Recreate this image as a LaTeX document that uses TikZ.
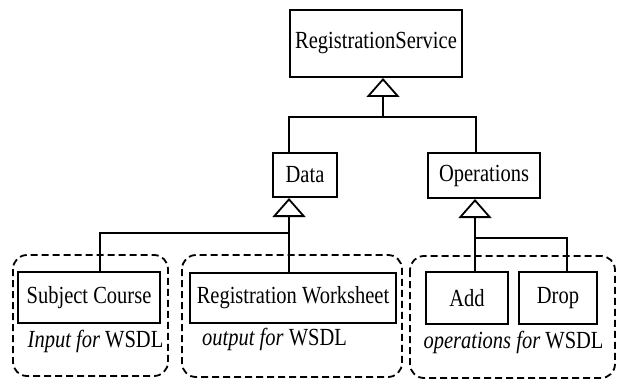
\documentclass[tikz,border=0pt]{standalone}
\usepackage{fontspec}
\usepackage{graphicx}
\setmainfont{Liberation Serif}
\usetikzlibrary{arrows.meta}
\newcommand{\tallt}[1]{\scalebox{1}[1.2]{#1}}
\begin{document}
\begin{tikzpicture}[x=1pt,y=-1pt,
  cls/.style={draw=black,line width=2pt,fill=white,inner sep=0pt,font=\fontsize{20.5}{24}\selectfont},
  conn/.style={draw=black,line width=1.8pt},
  inh/.style={conn,-{Triangle[open,length=19pt,width=33pt,line width=1.8pt]}},
  group/.style={draw=black,line width=1.8pt,dash pattern=on 7pt off 4pt,rounded corners=14pt},
  lbl/.style={font=\fontsize{20.5}{24}\selectfont,inner sep=0pt}]
\useasboundingbox (0,0) rectangle (620,379);
% groups
\draw[group] (13,255) rectangle (168,376);
\draw[group] (182,255) rectangle (402,377);
\draw[group] (410,256) rectangle (615,378);
% classes
\node[cls,minimum width=172pt,minimum height=67pt] (rs) at (376,43.5) {\tallt{RegistrationService}};
\node[cls,minimum width=64pt,minimum height=44pt] (data) at (305,175) {\tallt{Data}};
\node[cls,minimum width=112pt,minimum height=45pt] (ops) at (484,175.5) {\tallt{Operations}};
\node[cls,minimum width=142pt,minimum height=51pt] (sc) at (89,297.5) {\tallt{Subject Course}};
\node[cls,minimum width=206pt,minimum height=50pt] (rw) at (293,298) {\tallt{Registration Worksheet}};
\node[cls,minimum width=82pt,minimum height=52pt] (add) at (467,298) {\tallt{Add}};
\node[cls,minimum width=78pt,minimum height=52pt] (drop) at (558,298) {\tallt{Drop}};
% labels
\node[lbl] (l1) at (95.5,341) {\tallt{\textit{Input for} WSDL}};
\node[lbl] (l2) at (274.5,339) {\tallt{\textit{output for} WSDL}};
\node[lbl] (l3) at (513.5,342) {\tallt{\textit{operations for} WSDL}};
% junctions
\coordinate (j1) at (383,117);
\coordinate (j2) at (289,233);
\coordinate (j3) at (475,238);
% top level
\draw[conn] (data.north -| j2) |- (j1) -| (ops.north -| 476,0);
\draw[inh] (j1) -- (rs.south -| j1);
% data level
\draw[conn] (sc.north -| 100,0) |- (j2) -- (rw.north -| j2);
\draw[inh] (j2) -- (data.south -| j2);
% ops level
\draw[conn] (add.north -| j3) -- (j3) -| (drop.north -| 567,0);
\draw[inh] (j3) -- (ops.south -| j3);
\end{tikzpicture}
\end{document}
